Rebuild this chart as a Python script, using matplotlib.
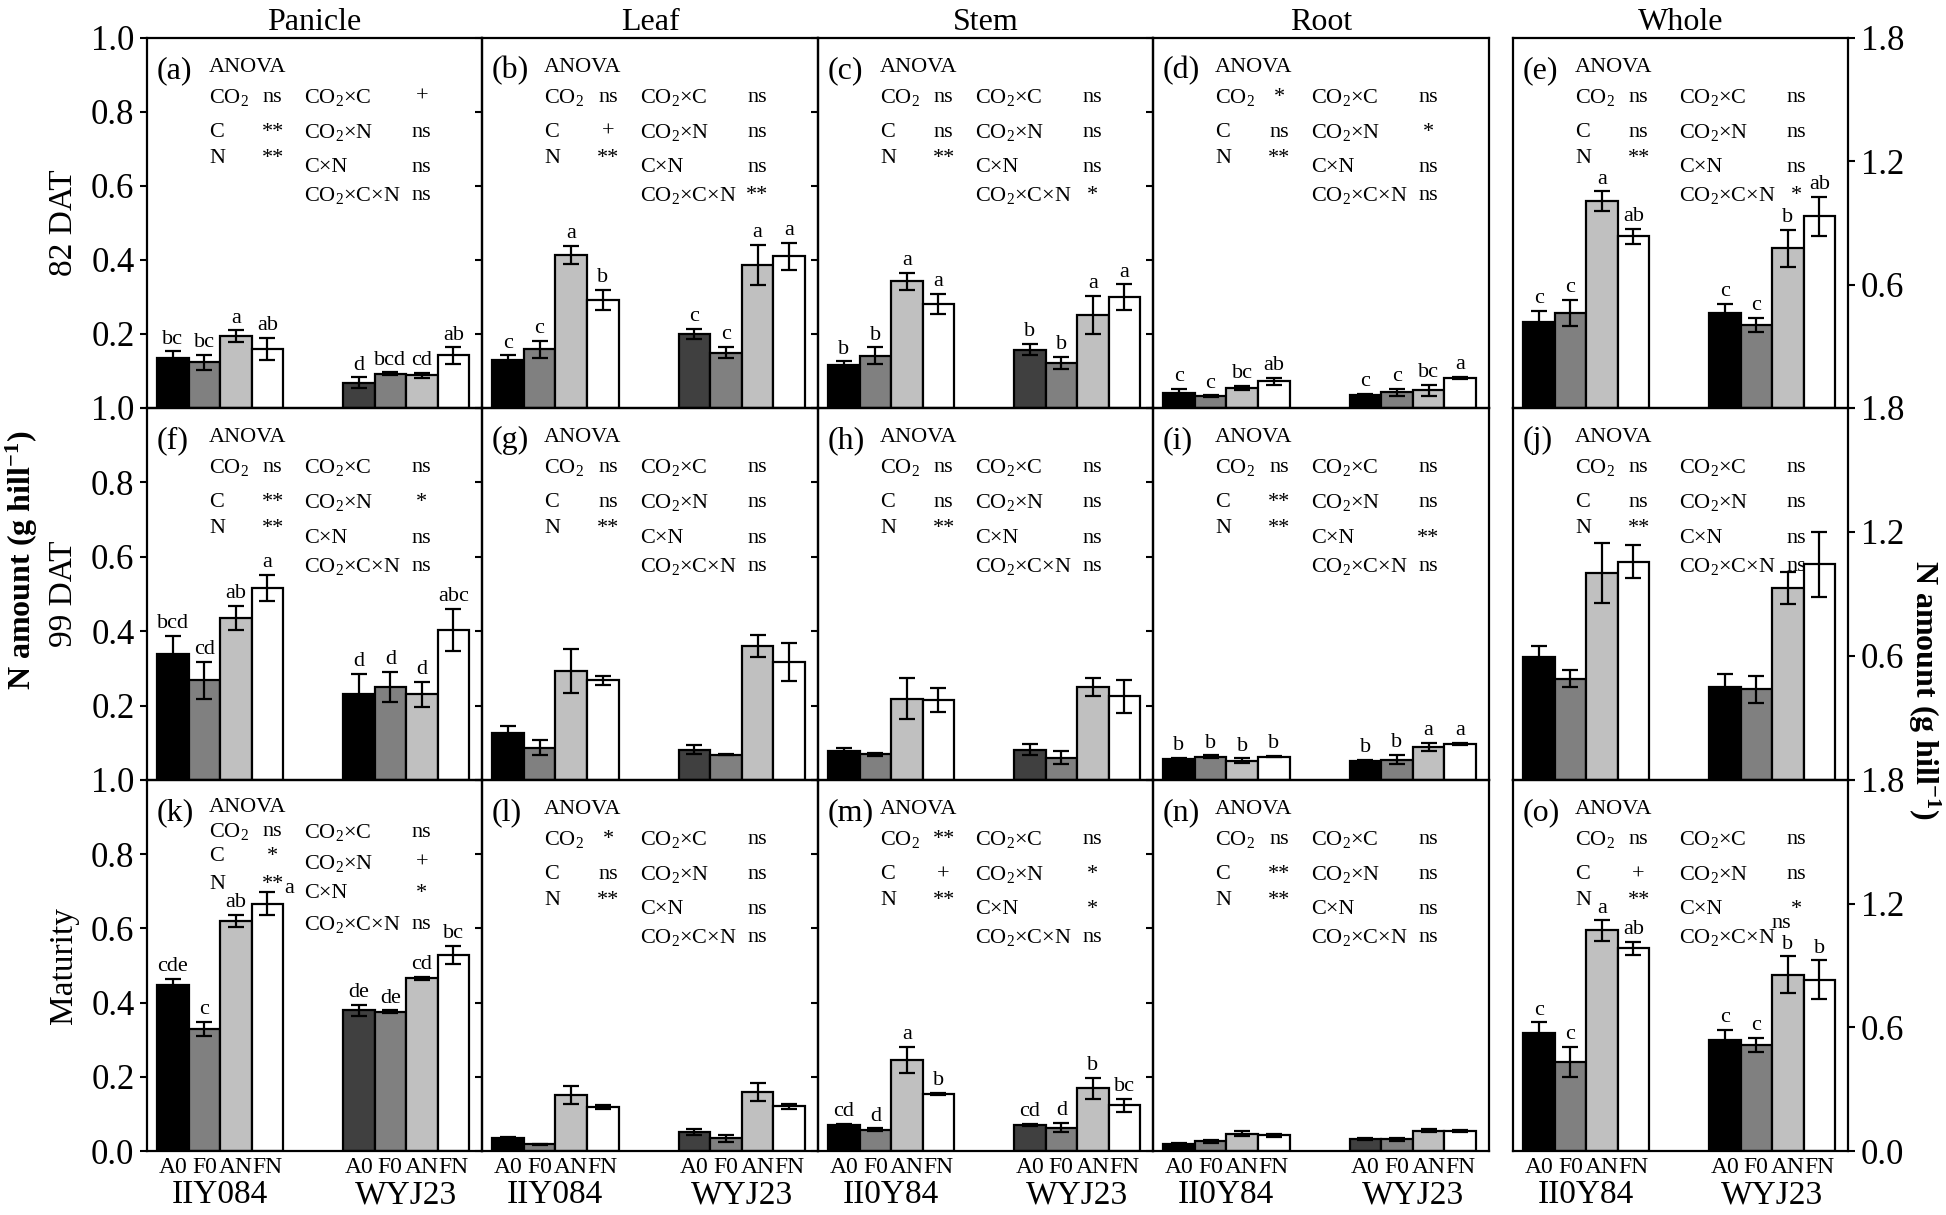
import matplotlib
matplotlib.use("Agg")
import matplotlib.pyplot as plt
from matplotlib import transforms

plt.rcParams["font.family"] = ["Liberation Serif", "DejaVu Serif"]
plt.rcParams["mathtext.fontset"] = "custom"
plt.rcParams["mathtext.rm"] = "Liberation Serif"
plt.rcParams["mathtext.it"] = "Liberation Serif:italic"
plt.rcParams["mathtext.bf"] = "Liberation Serif:bold"

parts = ["Panicle", "Leaf", "Stem", "Root", "Whole"]
stages = ["82 DAT", "99 DAT", "Maturity"]
treatments = ["A0", "F0", "AN", "FN"]
cultivars = [
    ["IIY084", "WYJ23"],
    ["IIY084", "WYJ23"],
    ["II0Y84", "WYJ23"],
    ["II0Y84", "WYJ23"],
    ["II0Y84", "WYJ23"],
]
panel_ids = list("abcdefghijklmno")

# N amount per panel: IIY084 (A0 F0 AN FN), then WYJ23 (A0 F0 AN FN)
mean_82 = [
    [0.135, 0.124, 0.194, 0.160, 0.068, 0.092, 0.088, 0.142],
    [0.131, 0.159, 0.414, 0.293, 0.200, 0.150, 0.386, 0.410],
    [0.115, 0.141, 0.342, 0.281, 0.158, 0.122, 0.252, 0.300],
    [0.040, 0.032, 0.054, 0.072, 0.034, 0.042, 0.048, 0.081],
    [0.420, 0.462, 1.005, 0.835, 0.462, 0.405, 0.778, 0.932],
]
err_82 = [
    [0.018, 0.020, 0.016, 0.030, 0.015, 0.004, 0.007, 0.022],
    [0.011, 0.023, 0.025, 0.027, 0.014, 0.016, 0.054, 0.036],
    [0.011, 0.023, 0.024, 0.027, 0.016, 0.016, 0.052, 0.034],
    [0.012, 0.002, 0.005, 0.010, 0.004, 0.009, 0.015, 0.003],
    [0.052, 0.065, 0.049, 0.037, 0.046, 0.033, 0.090, 0.094],
]
mean_99 = [
    [0.340, 0.268, 0.435, 0.516, 0.232, 0.250, 0.230, 0.404],
    [0.126, 0.087, 0.293, 0.268, 0.081, 0.068, 0.360, 0.317],
    [0.077, 0.069, 0.219, 0.214, 0.081, 0.060, 0.250, 0.225],
    [0.057, 0.063, 0.052, 0.063, 0.052, 0.055, 0.088, 0.097],
    [0.595, 0.490, 1.002, 1.057, 0.450, 0.438, 0.930, 1.044],
]
err_99 = [
    [0.048, 0.049, 0.032, 0.035, 0.053, 0.041, 0.033, 0.057],
    [0.020, 0.021, 0.058, 0.012, 0.012, 0.002, 0.029, 0.050],
    [0.008, 0.004, 0.056, 0.032, 0.015, 0.018, 0.023, 0.045],
    [0.003, 0.003, 0.006, 0.002, 0.002, 0.012, 0.011, 0.003],
    [0.054, 0.042, 0.146, 0.078, 0.062, 0.065, 0.076, 0.157],
]
mean_mat = [
    [0.448, 0.329, 0.621, 0.667, 0.379, 0.376, 0.466, 0.529],
    [0.034, 0.018, 0.151, 0.119, 0.051, 0.034, 0.158, 0.120],
    [0.071, 0.057, 0.245, 0.153, 0.070, 0.063, 0.169, 0.123],
    [0.020, 0.026, 0.047, 0.042, 0.032, 0.032, 0.054, 0.053],
    [0.574, 0.433, 1.070, 0.984, 0.538, 0.514, 0.855, 0.831],
]
err_mat = [
    [0.016, 0.019, 0.016, 0.031, 0.015, 0.003, 0.004, 0.024],
    [0.003, 0.002, 0.023, 0.005, 0.008, 0.009, 0.024, 0.008],
    [0.002, 0.004, 0.036, 0.003, 0.003, 0.013, 0.028, 0.018],
    [0.002, 0.004, 0.006, 0.003, 0.002, 0.004, 0.004, 0.003],
    [0.050, 0.073, 0.049, 0.032, 0.049, 0.036, 0.089, 0.094],
]

letters_82 = [
    ["bc", "bc", "a", "ab", "d", "bcd", "cd", "ab"],
    ["c", "c", "a", "b", "c", "c", "a", "a"],
    ["b", "b", "a", "a", "b", "b", "a", "a"],
    ["c", "c", "bc", "ab", "c", "c", "bc", "a"],
    ["c", "c", "a", "ab", "c", "c", "b", "ab"],
]
letters_99 = [
    ["bcd", "cd", "ab", "a", "d", "d", "d", "abc"],
    None,
    None,
    ["b", "b", "b", "b", "b", "b", "a", "a"],
    None,
]
letters_mat = [
    ["cde", "c", "ab", "a", "de", "de", "cd", "bc"],
    None,
    ["cd", "d", "a", "b", "cd", "d", "b", "bc"],
    None,
    ["c", "c", "a", "ab", "c", "c", "b", "b"],
]

# ANOVA: main effects (CO2, C, N) and interactions (CO2xC, CO2xN, CxN, CO2xCxN)
anova_main = [
    ["ns", "**", "**"], ["ns", "+", "**"], ["ns", "ns", "**"], ["*", "ns", "**"], ["ns", "ns", "**"],
    ["ns", "**", "**"], ["ns", "ns", "**"], ["ns", "ns", "**"], ["ns", "**", "**"], ["ns", "ns", "**"],
    ["ns", "*", "**"], ["*", "ns", "**"], ["**", "+", "**"], ["ns", "**", "**"], ["ns", "+", "**"],
]
anova_inter = [
    ["+", "ns", "ns", "ns"], ["ns", "ns", "ns", "**"], ["ns", "ns", "ns", "*"], ["ns", "*", "ns", "ns"], ["ns", "ns", "ns", "*"],
    ["ns", "*", "ns", "ns"], ["ns", "ns", "ns", "ns"], ["ns", "ns", "ns", "ns"], ["ns", "ns", "**", "ns"], ["ns", "ns", "ns", "ns"],
    ["ns", "+", "*", "ns"], ["ns", "ns", "ns", "ns"], ["ns", "*", "*", "ns"], ["ns", "ns", "ns", "ns"], ["ns", "ns", "*", "ns"],
]
main_names = ["CO$_2$", "C", "N"]
inter_names = ["CO$_2$×C", "CO$_2$×N", "C×N", "CO$_2$×C×N"]

means = [mean_82, mean_99, mean_mat]
errs = [err_82, err_99, err_mat]
letters = [letters_82, letters_99, letters_mat]

# fill of the WYJ23 A0 bar differs between panels
wyj_a0_dark = [
    [True, True, True, False, False],
    [False, True, True, False, False],
    [True, True, True, True, False],
]

W, H = 1946, 1215
fig = plt.figure(figsize=(W / 100, H / 100), dpi=100)

col_px = [(147, 482), (482, 818), (818, 1153), (1153, 1489), (1513, 1848)]
row_px = [(38, 408), (408, 780), (780, 1151)]

gap = 5.9
xpos = [0, 1, 2, 3, gap, gap + 1, gap + 2, gap + 3]
fills = ["#000000", "#808080", "#c0c0c0", "#ffffff"]
fs_anova = 16

for r in range(3):
    for c in range(5):
        x0, x1 = col_px[c]
        y0, y1 = row_px[r]
        ax = fig.add_axes([x0 / W, 1 - y1 / H, (x1 - x0) / W, (y1 - y0) / H])
        ax.set_facecolor("none")
        idx = r * 5 + c
        whole = c == 4
        vals = means[r][c]
        ee = errs[r][c]
        cols = fills + [("#404040" if wyj_a0_dark[r][c] else "#000000")] + fills[1:]
        ax.bar(xpos, vals, width=1.0, color=cols, edgecolor="black", linewidth=1.6, zorder=2)
        ax.errorbar(xpos, vals, yerr=ee, fmt="none", ecolor="black", elinewidth=1.6,
                    capsize=6, capthick=1.6, zorder=3)
        lab = letters[r][c]
        if lab is not None:
            for i in range(8):
                if idx == 10 and i == 3:
                    ax.annotate(lab[i], (xpos[i] + 0.5, vals[i] + ee[i]), xytext=(1, -4),
                                textcoords="offset points", ha="left", va="bottom", fontsize=16)
                else:
                    ax.annotate(lab[i], (xpos[i], vals[i] + ee[i]), xytext=(0, 2),
                                textcoords="offset points", ha="center", va="bottom", fontsize=16)

        ax.set_xlim(-0.82, gap + 3.91)
        if whole:
            ymax = 1.8
            ticks = [0, 0.6, 1.2, 1.8]
        else:
            ymax = 1.0
            ticks = [0, 0.2, 0.4, 0.6, 0.8, 1.0]
        ax.set_ylim(0, ymax)
        ax.set_yticks(ticks)
        labels = ["%.1f" % t for t in ticks]
        if r < 2:
            labels[0] = ""
        ax.set_yticklabels(labels, fontsize=25)
        if whole:
            ax.yaxis.tick_right()
            ax.tick_params(axis="y", direction="out", length=5, width=1.5, pad=4)
        else:
            ax.tick_params(axis="y", direction="out", length=5, width=1.5, pad=4,
                           labelleft=(c == 0))
        for s in ax.spines.values():
            s.set_linewidth(1.6)

        if r == 2:
            ax.set_xticks(xpos)
            ax.set_xticklabels(treatments * 2, fontsize=17)
            ax.tick_params(axis="x", length=0, pad=4)
            trans = transforms.blended_transform_factory(ax.transData, ax.transAxes)
            ax.text(1.5, -0.118, cultivars[c][0], transform=trans, ha="center", va="center", fontsize=24)
            ax.text(gap + 1.5, -0.118, cultivars[c][1], transform=trans, ha="center", va="center", fontsize=24)
        else:
            ax.set_xticks([])

        # ANOVA block
        tight = idx == 10
        y_main = [0.925, 0.862, 0.795, 0.718] if tight else [0.92, 0.84, 0.745, 0.675]
        y_inter = [0.858, 0.775, 0.695, 0.61] if tight else [0.84, 0.745, 0.65, 0.575]
        xi_name = 0.495 if whole else 0.47
        xi_val = 0.845 if whole else 0.82
        ax.text(0.03, 0.912, "(%s)" % panel_ids[idx], transform=ax.transAxes,
                fontsize=23, ha="left", va="center")
        ax.text(0.185, y_main[0], "ANOVA", transform=ax.transAxes, fontsize=fs_anova, ha="left", va="center")
        for k in range(3):
            ax.text(0.185, y_main[k + 1], main_names[k], transform=ax.transAxes,
                    fontsize=fs_anova, ha="left", va="center")
            ax.text(0.375, y_main[k + 1], anova_main[idx][k], transform=ax.transAxes,
                    fontsize=fs_anova, ha="center", va="center")
        for k in range(4):
            ax.text(xi_name, y_inter[k], inter_names[k], transform=ax.transAxes,
                    fontsize=fs_anova, ha="left", va="center")
            vx, vy = xi_val, y_inter[k]
            if idx == 14 and k == 3:
                # raised a little so it clears the letter above the bar
                vx, vy = 0.80, 0.612
            ax.text(vx, vy, anova_inter[idx][k], transform=ax.transAxes,
                    fontsize=fs_anova, ha="center", va="center")

        if r == 0:
            ax.set_title(parts[c], fontsize=23, pad=6)

for r in range(3):
    y0, y1 = row_px[r]
    fig.text(64 / W, 1 - (y0 + y1) / 2 / H, stages[r], rotation=90, fontsize=24,
             ha="center", va="center")

fig.text(22 / W, 1 - 560 / H, r"N amount (g hill$^{\mathbf{-1}}$)", rotation=90,
         fontsize=23, fontweight="bold", ha="center", va="center")
fig.text(1924 / W, 1 - 690 / H, r"N amount (g hill$^{\mathbf{-1}}$)", rotation=270,
         fontsize=23, fontweight="bold", ha="center", va="center")

fig.savefig("out.png", dpi=100)
